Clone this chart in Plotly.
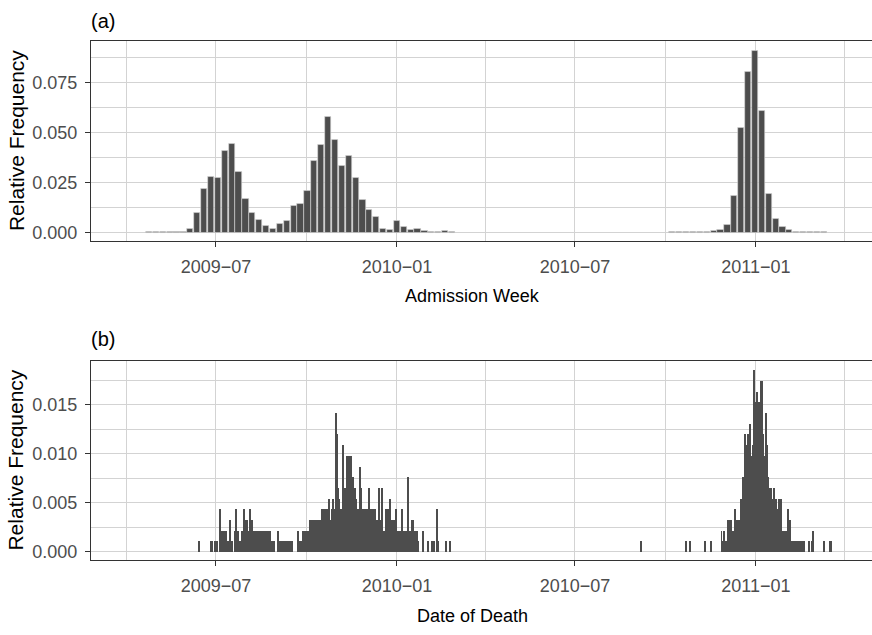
import pandas as pd
import plotly.graph_objects as go

W, H = 872, 635

# ---------------- data ----------------
# (a) weekly admissions, relative frequency (bar centres every 7 days)
adm_wave1_start = "2009-04-24"
adm_wave1 = [0.0001, 0.0001, 0.0001, 0.0001, 0.0001, 0.0001,
             0.0018, 0.0097, 0.0217, 0.0278, 0.0272, 0.0407, 0.0443, 0.0302,
             0.0167, 0.0097, 0.0062, 0.0035, 0.0018, 0.0042, 0.0057, 0.0132,
             0.0143, 0.0210, 0.0357, 0.0437, 0.0578, 0.0462, 0.0335, 0.0382,
             0.0272, 0.0162, 0.0112, 0.0078, 0.0020, 0.0013, 0.0057, 0.0030,
             0.0015, 0.0017, 0.0007, 0.0005, 0.0003, 0.0008, 0.0002]
adm_wave2_start = "2010-10-08"
adm_wave2 = [0.0001, 0.0001, 0.0001, 0.0001, 0.0001, 0.0001,
             0.0008, 0.0015, 0.0038, 0.0183, 0.0523, 0.0800, 0.0905, 0.0605,
             0.0193, 0.0070, 0.0028, 0.0013, 0.0005, 0.0002, 0.0004, 0.0001,
             0.0001]

# (b) daily deaths (counts per day), relative frequency = count / total_deaths
total_deaths = 917
death_run1_start = "2009-06-14"
death_run1 = [
    1, 0, 0, 0, 0, 0, 0, 0, 0, 0, 0, 0, 1, 1, 0, 0, 1, 1, 1, 0,
    0, 4, 2, 1, 2, 1, 2, 2, 1, 1, 0, 3, 1, 1, 0, 0, 2, 4, 2, 2,
    1, 1, 0, 2, 2, 1, 4, 3, 2, 3, 2, 2, 4, 3, 3, 1, 2, 1, 2, 2,
    2, 2, 1, 2, 1, 2, 1, 2, 1, 2, 2, 1, 2, 1, 1, 0, 1, 0, 0, 0,
    2, 0, 1, 0, 1, 0, 1, 0, 1, 1, 0, 1, 0, 1, 1, 0, 0, 0, 0, 0,
    2, 0, 1, 1, 0, 1, 2, 1, 2, 2, 2, 2, 2, 3, 3, 2, 3, 3, 2, 3,
    3, 3, 2, 3, 2, 4, 3, 4, 4, 4, 4, 3, 5, 2, 3, 4, 5, 4, 4, 13,
    11, 6, 5, 3, 4, 4, 10, 5, 6, 5, 9, 5, 9, 5, 9, 5, 7, 5, 6, 5,
    4, 3, 4, 8, 3, 6, 3, 4, 2, 4, 2, 4, 2, 6, 2, 4, 4, 2, 4, 4,
    2, 3, 2, 6, 2, 3, 6, 2, 2, 2, 4, 2, 4, 2, 5, 2, 3, 2, 3, 2,
    4, 2, 2, 1, 2, 2, 4, 2, 1, 2, 2, 1, 7, 2, 1, 2, 3, 3, 1, 2,
    1, 2, 1, 0, 0, 0, 0, 0, 2, 0, 0, 0, 0, 1, 0, 0, 0, 1, 0, 1,
    0, 0, 4, 1, 0, 0, 0, 0, 0, 0, 0, 1, 0, 0, 0, 1]
death_run2_start = "2010-09-06"
death_run2 = [
    1, 0, 0, 0, 0, 0, 0, 0, 0, 0, 0, 0, 0, 0, 0, 0, 0, 0, 0, 0,
    0, 0, 0, 0, 0, 0, 0, 0, 0, 0, 0, 0, 0, 0, 0, 0, 0, 0, 0, 0,
    0, 0, 0, 0, 0, 0, 1, 0, 0, 0, 1, 0, 0, 0, 0, 0, 0, 0, 0, 0,
    0, 0, 0, 0, 0, 1, 0, 0, 0, 0, 0, 1, 0, 0, 0, 0, 0, 0, 0, 0,
    0, 0, 2, 1, 1, 2, 1, 1, 1, 3, 2, 3, 3, 2, 2, 2, 4, 3, 3, 2,
    3, 2, 5, 4, 7, 5, 11, 8, 10, 11, 8, 12, 9, 5, 10, 17, 12, 14, 15, 14,
    11, 14, 16, 16, 11, 9, 8, 13, 10, 7, 6, 5, 6, 5, 4, 6, 4, 5, 4, 4,
    5, 5, 5, 3, 2, 2, 2, 1, 2, 2, 4, 1, 3, 1, 1, 1, 0, 1, 1, 0,
    1, 1, 0, 1, 1, 0, 1, 0, 0, 0, 0, 1, 0, 0, 1, 2, 0, 0, 0, 0,
    0, 0, 0, 0, 0, 0, 1, 0, 0, 0, 0, 0, 1, 1]

# axis labelling
x_tick_dates = ["2009-07-01", "2010-01-01", "2010-07-01", "2011-01-01"]
x_tick_text = ["2009\u221207", "2010\u221201", "2010\u221207", "2011\u221201"]
x_minor_dates = ["2009-04-01", "2009-10-01", "2010-04-01", "2010-10-01", "2011-04-01"]
ya_ticks = [0.0, 0.025, 0.05, 0.075]
ya_minor = [0.0125, 0.0375, 0.0625, 0.0875]
yb_ticks = [0.0, 0.005, 0.010, 0.015]
yb_minor = [0.0025, 0.0075, 0.0125, 0.0175]
x_range = ["2009-02-24", "2011-04-29"]

# ---------------- figure ----------------
DAY_MS = 86400000
BAR = "#4d4d4d"
GRID = "#d3d3d3"
AX = "#333333"
FONT = "Liberation Sans, Arial, Helvetica, sans-serif"

fig = go.Figure()
for start, vals in [(adm_wave1_start, adm_wave1), (adm_wave2_start, adm_wave2)]:
    fig.add_trace(go.Bar(
        x=pd.date_range(start, periods=len(vals), freq="7D"), y=vals,
        width=6.3 * DAY_MS, xaxis="x", yaxis="y",
        marker=dict(color=BAR, line=dict(color="#d9d9d9", width=0.6)),
        hoverinfo="x+y"))
for start, counts in [(death_run1_start, death_run1), (death_run2_start, death_run2)]:
    fig.add_trace(go.Bar(
        x=pd.date_range(start, periods=len(counts), freq="D"),
        y=[c / total_deaths for c in counts],
        width=1.0 * DAY_MS, xaxis="x2", yaxis="y2",
        marker=dict(color=BAR, line=dict(width=0)),
        hoverinfo="x+y"))

x0 = 91 / W
top_dom = [1 - 242 / H, 1 - 41 / H]
bot_dom = [1 - 562 / H, 1 - 362 / H]

def xaxis(anchor):
    return dict(domain=[x0, 1], type="date", range=x_range, anchor=anchor,
                tickmode="array", tickvals=x_tick_dates, ticktext=x_tick_text,
                ticks="outside", ticklen=5, tickwidth=1, tickcolor=AX,
                ticklabelstandoff=4,
                tickfont=dict(family=FONT, size=18, color="#4d4d4d"),
                showline=True, linecolor=AX, linewidth=1.2, mirror=True,
                showgrid=True, gridcolor=GRID, gridwidth=1.4, zeroline=False,
                minor=dict(tickmode="array", tickvals=x_minor_dates, showgrid=True,
                           gridcolor=GRID, gridwidth=1.2))

def yaxis(anchor, dom, rng, ticks, minor):
    return dict(domain=dom, range=rng, anchor=anchor,
                tickmode="array", tickvals=ticks, ticktext=[f"{t:.3f}" for t in ticks],
                ticks="outside", ticklen=5, tickwidth=1, tickcolor=AX,
                ticklabelstandoff=4,
                tickfont=dict(family=FONT, size=18, color="#4d4d4d"),
                showline=True, linecolor=AX, linewidth=1.2, mirror=False,
                showgrid=True, gridcolor=GRID, gridwidth=1.4, zeroline=False,
                minor=dict(tickmode="array", tickvals=minor, showgrid=True,
                           gridcolor=GRID, gridwidth=1.2))

fig.update_layout(
    width=W, height=H, margin=dict(l=0, r=0, t=0, b=0),
    paper_bgcolor="white", plot_bgcolor="white",
    showlegend=False, barmode="overlay", bargap=0,
    font=dict(family=FONT, color="black"),
    xaxis=xaxis("y"), yaxis=yaxis("x", top_dom, [-0.00435, 0.09565], ya_ticks, ya_minor),
    xaxis2=xaxis("y2"), yaxis2=yaxis("x2", bot_dom, [-0.00084, 0.01948], yb_ticks, yb_minor),
)

def ann(text, x, y, size, angle=0, xanchor="center"):
    fig.add_annotation(text=text, x=x / W, y=1 - y / H, xref="paper", yref="paper",
                       showarrow=False, textangle=angle, xanchor=xanchor, yanchor="middle",
                       font=dict(family=FONT, size=size, color="black"))

ann("(a)", 89, 21, 20, xanchor="left")
ann("(b)", 89, 340, 20, xanchor="left")
ann("Relative Frequency", 16, 141.5, 21, angle=-90)
ann("Relative Frequency", 16, 462, 21, angle=-90)
ann("Admission Week", 472, 297, 18)
ann("Date of Death", 472, 618, 18)

fig.write_html("out.html",
               config={"displayModeBar": False, "responsive": False},
               post_script="document.body.style.margin='0';document.body.style.overflow='hidden';")
